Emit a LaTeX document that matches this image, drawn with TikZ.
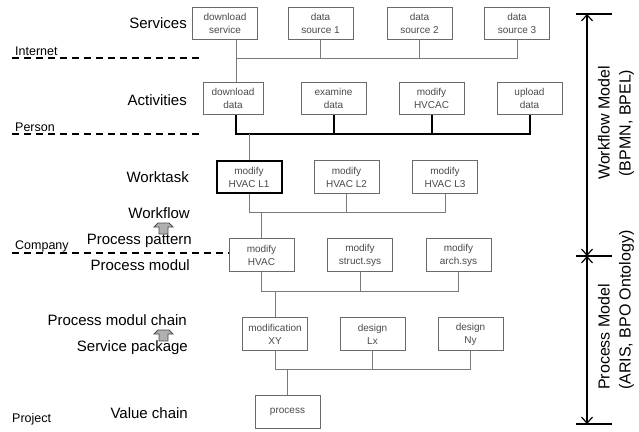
\documentclass[tikz,border=0pt]{standalone}
\usepackage{fontspec}
\setmainfont{Liberation Sans}
\usetikzlibrary{arrows.meta}
\definecolor{boxline}{HTML}{6A6A6A}
\definecolor{boxtext}{HTML}{4A4A4A}
\definecolor{conline}{HTML}{7A7A7A}
\definecolor{blkfill}{HTML}{B0B0B0}
\tikzset{
  box/.style={draw=boxline, line width=1pt, minimum width=65pt, minimum height=32.5pt, inner sep=0pt,
    align=center, text=boxtext, font=\fontsize{10}{13}\selectfont},
  boldbox/.style={box, draw=black, line width=2pt, text=boxtext},
  conn/.style={draw=conline, line width=1pt},
  thickconn/.style={draw=black, line width=2pt},
  biglabel/.style={anchor=east, inner sep=0pt, font=\fontsize{15}{17}\selectfont},
  smalllabel/.style={anchor=base west, inner sep=0pt, font=\fontsize{12.5}{14}\selectfont},
  layerline/.style={draw=black, line width=2pt, dash pattern=on 7.3pt off 4.7pt},
  dimline/.style={draw=black, line width=1.2pt},
  dimarrow/.style={draw=black, line width=1.2pt, {Straight Barb[length=6pt,width=11pt]}-{Straight Barb[length=6pt,width=11pt]}},
  blkarrow/.style={fill=blkfill, draw=black!70, line width=0.8pt},
  modeltext/.style={rotate=90, inner sep=0pt, font=\fontsize{16}{21}\selectfont}
}
\begin{document}
\begin{tikzpicture}[x=1pt, y=-1pt]
\useasboundingbox (0,0) rectangle (639,431);

% ---- rows of boxes ----
\node[box] (ds) at (225,23.5) {download\\service};
\node[box] (s1) at (320.5,23.5) {data\\source 1};
\node[box] (s2) at (419.5,23.5) {data\\source 2};
\node[box] (s3) at (517,23.5) {data\\source 3};

\node[box, minimum width=60pt] (dd) at (233,98.5) {download\\data};
\node[box] (ex) at (333.5,98.5) {examine\\data};
\node[box] (mo) at (431.5,98.5) {modify\\HVCAC};
\node[box] (up) at (529.5,98.5) {upload\\data};

\node[boldbox] (l1) at (249,177) {modify\\HVAC L1};
\node[box] (l2) at (346.5,177) {modify\\HVAC L2};
\node[box] (l3) at (445,177) {modify\\HVAC L3};

\node[box] (mh) at (261.5,255) {modify\\HVAC};
\node[box] (ms) at (360,255) {modify\\struct.sys};
\node[box] (ma) at (458.5,255) {modify\\arch.sys};

\node[box] (mxy) at (275,334) {modification\\XY};
\node[box] (dlx) at (372.5,334) {design\\Lx};
\node[box] (dny) at (470.5,334) {design\\Ny};

\node[box] (proc) at (287.5,412) {process};

% ---- junction levels ----
\coordinate (h1) at (236,58);
\coordinate (h2) at (236,134);
\coordinate (h3) at (0,212);
\coordinate (h4) at (0,291);
\coordinate (h5) at (0,369);

% ---- connectors ----
\draw[conn] (ds.south -| h1) -- (h1) -- (h1 -| s3.south) -- (s3.south);
\draw[conn] (s1.south) -- (s1.south |- h1);
\draw[conn] (s2.south) -- (s2.south |- h1);
\draw[conn] (h1) -- (dd.north -| h1);

\draw[thickconn] (dd.south -| h2) -- (h2) -- (h2 -| up.south) -- (up.south);
\draw[thickconn] (ex.south) -- (ex.south |- h2);
\draw[thickconn] (mo.south) -- (mo.south |- h2);
\draw[conn] (l1.north) -- (l1.north |- h2);

\draw[conn] (l1.south) -- (l1.south |- h3) -- (l3.south |- h3) -- (l3.south);
\draw[conn] (l2.south) -- (l2.south |- h3);
\draw[conn] (mh.north) -- (mh.north |- h3);

\draw[conn] (mh.south) -- (mh.south |- h4) -- (ma.south |- h4) -- (ma.south);
\draw[conn] (ms.south) -- (ms.south |- h4);
\draw[conn] (mxy.north) -- (mxy.north |- h4);

\draw[conn] (mxy.south) -- (mxy.south |- h5) -- (dny.south |- h5) -- (dny.south);
\draw[conn] (dlx.south) -- (dlx.south |- h5);
\draw[conn] (proc.north) -- (proc.north |- h5);

% ---- left labels ----
\node[biglabel] (lServices) at (187,23) {Services};
\node[biglabel] (lActivities) at (187,100) {Activities};
\node[biglabel] (lWorktask) at (189,177) {Worktask};
\node[biglabel] (lWorkflow) at (190,213) {Workflow};
\node[biglabel] (lPattern) at (192,241) {Process pattern};
\node[biglabel] (lModul) at (190,265) {Process modul};
\node[biglabel] (lChain) at (187,320) {Process modul chain};
\node[biglabel] (lPackage) at (188,348) {Service package};
\node[biglabel] (lValue) at (188,413) {Value chain};

\node[smalllabel] (tInternet) at (15,55) {Internet};
\node[smalllabel] (tPerson) at (15,131) {Person};
\node[smalllabel] (tCompany) at (15,249) {Company};
\node[smalllabel] (tProject) at (12,422) {Project};

% ---- layer lines ----
\coordinate (d1s) at (12,58);
\coordinate (d1e) at (203,58);
\coordinate (d2s) at (12,134);
\coordinate (d2e) at (203,134);
\coordinate (d3s) at (12,253);
\draw[layerline] (d1s) -- (d1e);
\draw[layerline] (d2s) -- (d2e);
\draw[layerline] (d3s) -- (d3s -| mh.west);

% ---- small block arrows ----
\draw[blkarrow] (159,234) -- (159,227) -- (154,227) -- (158,223) -- (169,223) -- (173,227) -- (168,227) -- (168,234) -- cycle;
\draw[blkarrow] (159,341) -- (159,334) -- (154,334) -- (158,330) -- (169,330) -- (173,334) -- (168,334) -- (168,341) -- cycle;

% ---- model dimension arrows ----
\coordinate (at) at (587,14);
\coordinate (am) at (587,256);
\coordinate (ab) at (587,424);
\draw[dimline] (576,14) -- (612,14);
\draw[dimline] (576,256) -- (612,256);
\draw[dimline] (576,424) -- (612,424);
\draw[dimarrow] (am) -- (at);
\draw[dimarrow] (am) -- (ab);

\node[modeltext, align=center] (wm) at (616,123) {Workflow Model\\(BPMN, BPEL)};
\node[modeltext, align=left, anchor=west] (pm) at (616,390) {Process Model\\(ARIS, BPO Ontology)};
\end{tikzpicture}
\end{document}
